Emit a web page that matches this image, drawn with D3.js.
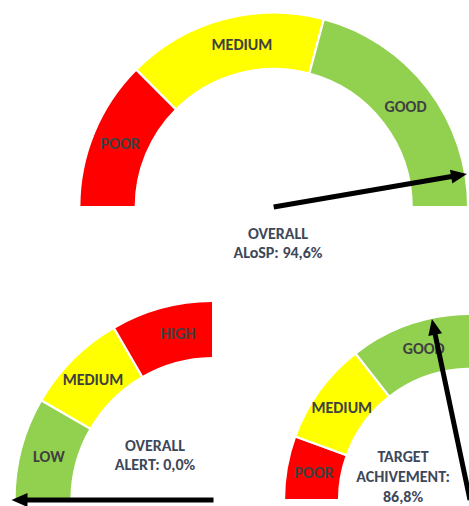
<!DOCTYPE html>
<html>
<head>
<meta charset="utf-8">
<script src="https://cdn.jsdelivr.net/npm/d3@7"></script>
<style>
  html, body { margin: 0; padding: 0; background: #fff; }
  svg { display: block; }
</style>
</head>
<body>
<svg id="chart" width="469" height="506"></svg>
<script>
// Overall ALoSP gauge: band shares are % of the half dial
const alospBands = ["POOR", "MEDIUM", "GOOD"];
const alospShares = [25, 33.3, 41.7];
const alospValue = 94.6;
const alospMax = 100;

// Overall alert gauge
const alertBands = ["LOW", "MEDIUM", "HIGH"];
const alertShares = [16.7, 16.6, 66.7];
const alertValue = 0.0;
const alertMax = 100;

// Target achievement gauge (dial runs to 200 %)
const targetBands = ["POOR", "MEDIUM", "GOOD"];
const targetShares = [11.1, 17.8, 71.1];
const targetValue = 86.8;
const targetMax = 200;

const bandColors = {
  POOR: "#ff0000", HIGH: "#ff0000",
  MEDIUM: "#ffff00",
  GOOD: "#92d050", LOW: "#92d050"
};

const pct = v => v.toFixed(1).replace(".", ",") + "%";

const FONT = "Carlito, Calibri, Lato, sans-serif";
const LABEL_COLOR = "#404040";
const CAPTION_COLOR = "#3d4759";
const FONT_SIZE = 16;

const gauges = [
  {
    id: "alosp", bands: alospBands, shares: alospShares, value: alospValue, max: alospMax,
    cx: 273.7, cy: 207, rIn: 138, rOut: 194.4, needleLen: 196,
    clipX: null, labelShift: { MEDIUM: 4 },
    caption: ["OVERALL", "ALoSP: " + pct(alospValue)],
    capX: 278, capY: [239, 257.5]
  },
  {
    id: "alert", bands: alertBands, shares: alertShares, value: alertValue, max: alertMax,
    cx: 213.5, cy: 500, rIn: 142, rOut: 199, needleLen: 202,
    clipX: 212, visibleEnd: 96, labelShift: {},
    caption: ["OVERALL", "ALERT: " + pct(alertValue)],
    capX: 155, capY: [451, 469.5]
  },
  {
    id: "target", bands: targetBands, shares: targetShares, value: targetValue, max: targetMax,
    cx: 470, cy: 500, rIn: 131, rOut: 186, needleLen: 185,
    clipX: null, visibleEnd: 94, labelShift: {},
    caption: ["TARGET", "ACHIVEMENT:", pct(targetValue)],
    capX: 403, capY: [462, 482, 502]
  }
];

const svg = d3.select("#chart");
const defs = svg.append("defs");

gauges.forEach(g => {
  const root = svg.append("g").attr("class", "gauge gauge-" + g.id);

  if (g.clipX !== null) {
    defs.append("clipPath").attr("id", "clip-" + g.id)
      .append("rect").attr("x", 0).attr("y", 0).attr("width", g.clipX).attr("height", 506);
  }

  const bandsLayer = root.append("g")
    .attr("clip-path", g.clipX !== null ? `url(#clip-${g.id})` : null)
    .append("g")
    .attr("transform", `translate(${g.cx},${g.cy})`);

  const table = g.bands.map((name, i) => ({ name, share: g.shares[i] }));

  const pie = d3.pie()
    .sort(null)
    .value(d => d.share)
    .startAngle(-Math.PI / 2)
    .endAngle(Math.PI / 2);

  const arc = d3.arc().innerRadius(g.rIn).outerRadius(g.rOut);
  const slices = pie(table);

  bandsLayer.selectAll("path.band")
    .data(slices)
    .join("path")
    .attr("class", "band")
    .attr("d", arc)
    .attr("fill", d => bandColors[d.data.name])
    .attr("stroke", "#fff")
    .attr("stroke-width", 2.2)
    .attr("stroke-linejoin", "miter");

  // band labels, centred on the visible part of each band
  const toRad = deg => deg * Math.PI / 180 - Math.PI / 2; // degrees from the left end -> d3 angle
  const rMid = (g.rIn + g.rOut) / 2;
  bandsLayer.selectAll("text.band-label")
    .data(slices)
    .join("text")
    .attr("class", "band-label")
    .attr("transform", d => {
      const a0 = (d.startAngle + Math.PI / 2) * 180 / Math.PI;
      let a1 = (d.endAngle + Math.PI / 2) * 180 / Math.PI;
      if (g.visibleEnd !== undefined) a1 = Math.min(a1, g.visibleEnd);
      const mid = (a0 + a1) / 2 + (g.labelShift[d.data.name] || 0);
      const a = toRad(mid);
      return `translate(${rMid * Math.sin(a)},${-rMid * Math.cos(a)})`;
    })
    .attr("text-anchor", "middle")
    .attr("dy", "0.36em")
    .attr("font-family", FONT)
    .attr("font-weight", "bold")
    .attr("font-size", FONT_SIZE)
    .attr("fill", LABEL_COLOR)
    .text(d => d.data.name);

  // caption
  root.append("g").selectAll("text")
    .data(g.caption)
    .join("text")
    .attr("x", g.capX)
    .attr("y", (d, i) => g.capY[i])
    .attr("text-anchor", "middle")
    .attr("font-family", FONT)
    .attr("font-weight", "bold")
    .attr("font-size", FONT_SIZE)
    .attr("fill", CAPTION_COLOR)
    .text(d => d);

  // needle, drawn over the bands
  const dial = root.append("g")
    .attr("transform", `translate(${g.cx},${g.cy})`);
  const angle = d3.scaleLinear().domain([0, g.max]).range([-Math.PI / 2, Math.PI / 2]);
  const a = angle(g.value);
  const dir = [Math.sin(a), -Math.cos(a)];
  const tip = [dir[0] * g.needleLen, dir[1] * g.needleLen];
  const headLen = 16, headHalf = 7;
  const base = [tip[0] - dir[0] * headLen, tip[1] - dir[1] * headLen];
  const nrm = [-dir[1], dir[0]];

  dial.append("line")
    .attr("x1", 0).attr("y1", 0)
    .attr("x2", base[0] + dir[0] * 2).attr("y2", base[1] + dir[1] * 2)
    .attr("stroke", "#000")
    .attr("stroke-width", 5);
  dial.append("path")
    .attr("d", d3.line()([
      tip,
      [base[0] + nrm[0] * headHalf, base[1] + nrm[1] * headHalf],
      [base[0] - nrm[0] * headHalf, base[1] - nrm[1] * headHalf]
    ]) + "Z")
    .attr("fill", "#000");
});
</script>
</body>
</html>
